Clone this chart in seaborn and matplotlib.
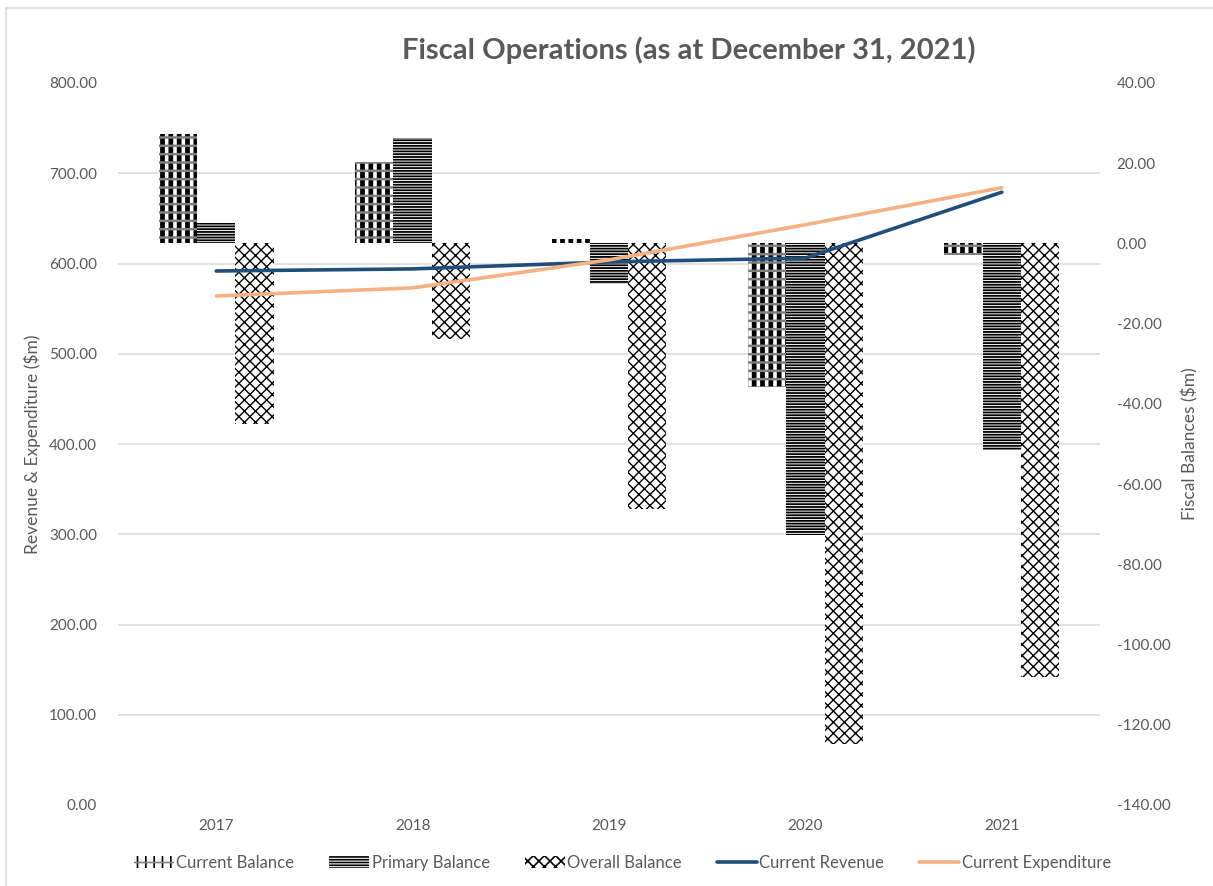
import numpy as np
import pandas as pd
import matplotlib
matplotlib.use("Agg")
import matplotlib.pyplot as plt
from matplotlib.patches import Patch, Rectangle
from matplotlib.lines import Line2D
from matplotlib.legend_handler import HandlerTuple
import seaborn as sns

years = ["2017", "2018", "2019", "2020", "2021"]
current_balance = [27.4, 20.2, 1.0, -35.7, -3.0]
primary_balance = [5.0, 26.4, -10.2, -72.8, -51.6]
overall_balance = [-44.9, -23.7, -66.3, -124.7, -108.2]
current_revenue = [591.7, 594.0, 601.7, 606.0, 679.0]
current_expenditure = [564.0, 573.0, 604.0, 643.0, 684.0]

bar_names = ["Current Balance", "Primary Balance", "Overall Balance"]
hatches = ["||", "------", "xxx"]
hatch_lw = [3.4, 1.3, 1.0]

sns.set_theme(style="white")
plt.rcParams["font.family"] = ["Lato", "DejaVu Sans"]
plt.rcParams["hatch.linewidth"] = 1.2

gray = "#595959"

bars_df = pd.DataFrame({
    "year": years * 3,
    "series": sum([[n] * len(years) for n in bar_names], []),
    "value": current_balance + primary_balance + overall_balance,
})

fig = plt.figure(figsize=(12.13, 8.86), dpi=100)
ax1 = fig.add_axes([118 / 1213, 1 - 805 / 886, (1100 - 118) / 1213, (805 - 83) / 886])
ax2 = ax1.twinx()


def style_bar(p, hatch, lw, color):
    p.set_hatch(hatch)
    p.set_edgecolor(color)
    p.set_linewidth(0)
    p.set_zorder(3)
    if hasattr(p, "set_hatch_linewidth"):
        p.set_hatch_linewidth(lw)


# Bars on right axis
sns.barplot(data=bars_df, x="year", y="value", hue="series", hue_order=bar_names,
            palette=["white"] * 3, width=0.585, ax=ax2, legend=False,
            linewidth=0, saturation=1, errorbar=None)
base_containers = list(ax2.containers)
for cont, h, lw in zip(base_containers, hatches, hatch_lw):
    for p in cont:
        style_bar(p, h, lw, "black")

# Dotted-row overlay for the Current Balance pattern
sns.barplot(data=bars_df, x="year", y="value", hue="series", hue_order=bar_names,
            palette=["white"] * 3, width=0.585, ax=ax2, legend=False,
            linewidth=0, saturation=1, errorbar=None, fill=False)
overlay = list(ax2.containers)[3:]
for i, cont in enumerate(overlay):
    for p in cont:
        if i == 0:
            p.set_facecolor("none")
            p.set_fill(False)
            style_bar(p, "--", 1.8, "#7f7f7f")
            p.set_zorder(3.5)
        else:
            p.set_visible(False)

ax2.set_ylim(-140, 40)
ax2.set_yticks(np.arange(-140, 41, 20))
ax2.set_yticklabels([f"{v:.2f}" for v in np.arange(-140, 41, 20)])
ax2.set_ylabel("Fiscal Balances ($m)", color=gray, fontsize=12.5, labelpad=8)
ax2.tick_params(axis="y", colors=gray, labelsize=11, length=0, pad=12)

# Grid lines following the left axis, drawn behind the bars
left_ticks = np.arange(0, 801, 100)
grid_pos = -140 + left_ticks * (180 / 800)
ax2.set_yticks(grid_pos, minor=True)
ax2.tick_params(axis="y", which="minor", length=0)
ax2.grid(True, which="minor", axis="y", color="#d9d9d9", linewidth=1.1, zorder=0)
ax2.set_axisbelow(True)

# Lines on left axis
lines_df = pd.DataFrame({
    "year": years * 2,
    "series": ["Current Revenue"] * 5 + ["Current Expenditure"] * 5,
    "value": current_revenue + current_expenditure,
})
sns.lineplot(data=lines_df, x="year", y="value", hue="series",
             hue_order=["Current Revenue", "Current Expenditure"],
             palette=["#1f4e79", "#f4b183"], linewidth=2.6, ax=ax1, legend=False,
             sort=False)
ax1.set_zorder(ax2.get_zorder() + 1)
ax1.patch.set_visible(False)
ax1.set_ylim(0, 800)
ax1.set_yticks(left_ticks)
ax1.set_yticklabels([f"{v:.2f}" for v in left_ticks])
ax1.set_ylabel("Revenue & Expenditure ($m)", color=gray, fontsize=12.5, labelpad=6)
ax1.tick_params(axis="y", colors=gray, labelsize=11, length=0, pad=15)
ax1.tick_params(axis="x", colors=gray, labelsize=11, length=0, pad=10)
ax1.set_xlim(-0.5, 4.5)
ax1.set_xlabel("")
ax2.set_xlabel("")
ax1.grid(False)
for a in (ax1, ax2):
    for s in a.spines.values():
        s.set_visible(False)

fig.text(0.568, 1 - 50 / 886, "Fiscal Operations (as at December 31, 2021)",
         ha="center", va="center", fontsize=21, fontweight="bold", color=gray)


def legend_patch(h, lw, color, fill=True):
    hp = Patch(facecolor="white" if fill else "none", edgecolor=color, hatch=h,
               linewidth=0, fill=fill)
    if hasattr(hp, "set_hatch_linewidth"):
        hp.set_hatch_linewidth(lw)
    return hp


handles = [(legend_patch(hatches[0], hatch_lw[0], "black"),
            legend_patch("--", 1.8, "#7f7f7f", fill=False))]
handles += [legend_patch(h, lw, "black") for h, lw in zip(hatches[1:], hatch_lw[1:])]
handles += [Line2D([0], [0], color="#1f4e79", lw=2.6), Line2D([0], [0], color="#f4b183", lw=2.6)]
labels = bar_names + ["Current Revenue", "Current Expenditure"]
leg = fig.legend(handles, labels, loc="center", bbox_to_anchor=(0.513, 1 - 863 / 886),
                 ncol=5, frameon=False, fontsize=12, labelcolor=gray,
                 handlelength=2.4, handletextpad=0.15, columnspacing=2.1,
                 handler_map={tuple: HandlerTuple(ndivide=1, pad=0)})

fig.patches.append(Rectangle((6 / 1213, -0.1), 1.2, (1 - 8 / 886) + 0.1,
                             transform=fig.transFigure, fill=False,
                             edgecolor="#d9d9d9", linewidth=1.2))

fig.savefig("out.png", dpi=100)
